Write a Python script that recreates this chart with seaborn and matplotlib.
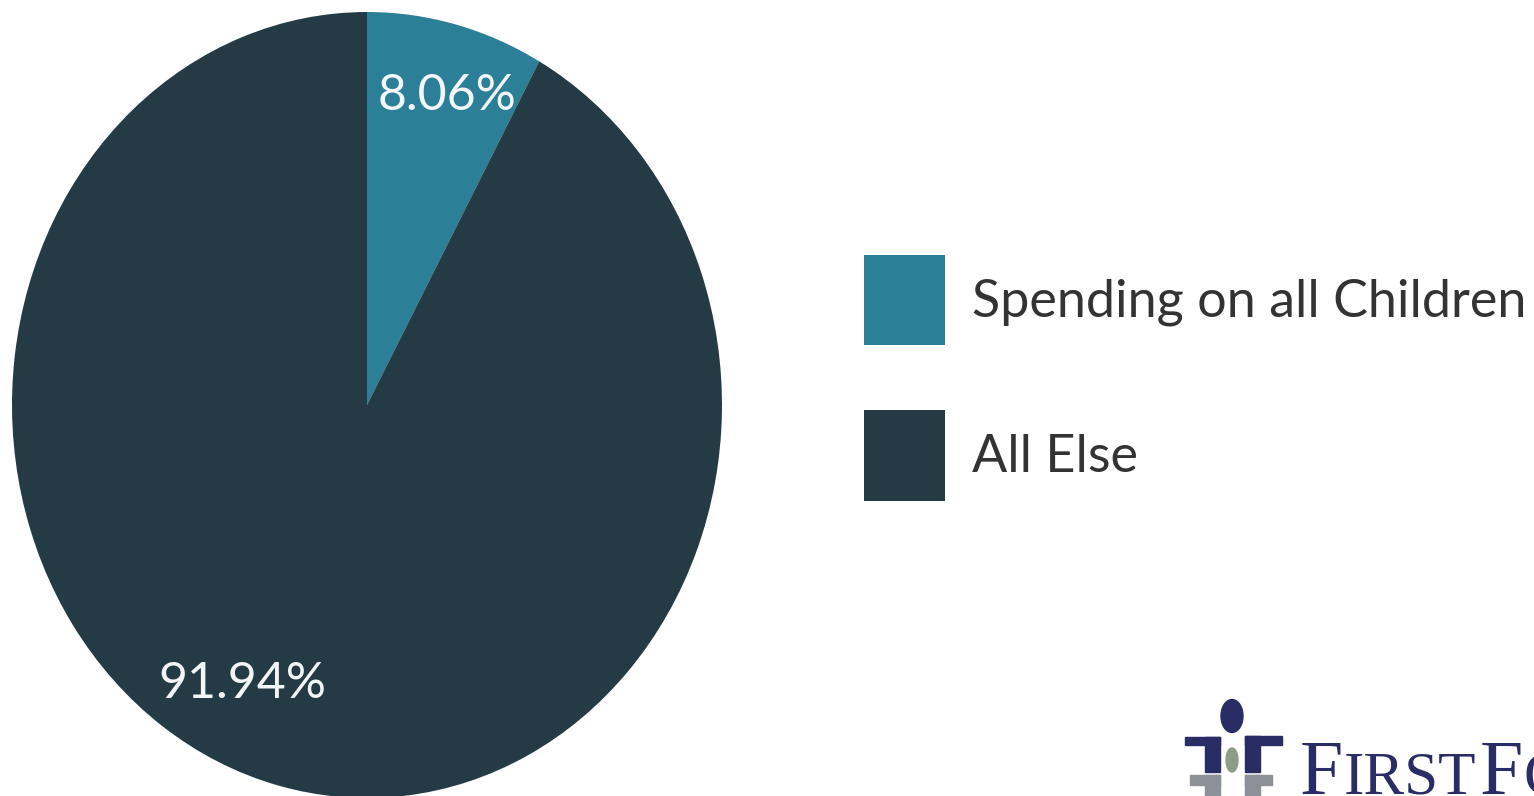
import matplotlib
matplotlib.use("Agg")
import matplotlib.pyplot as plt
import seaborn as sns
from matplotlib.patches import Ellipse, Rectangle

sns.set_theme(style="white")
plt.rcParams["font.family"] = ["Lato", "DejaVu Sans"]

# Share of spending
categories = ["Spending on all Children", "All Else"]
shares = [8.06, 91.94]
colors = ["#2b7f96", "#243b46"]

W, H = 1534, 796
fig = plt.figure(figsize=(W / 100, H / 100), dpi=100)
fig.patch.set_facecolor("white")

# Pie axes: stretched slightly taller than wide
cx, cy, rx, ry = 367, 405, 355, 393
ax = fig.add_axes([(cx - rx) / W, (H - cy - ry) / H, 2 * rx / W, 2 * ry / H])
wedges, _ = ax.pie(shares, colors=colors, startangle=90, counterclock=False,
                   wedgeprops=dict(linewidth=0))
ax.set_aspect("auto")
ax.set_xlim(-1, 1)
ax.set_ylim(-1, 1)
ax.axis("off")

label_pos = [(0.225, 0.785), (-0.352, -0.71)]
for val, (lx, ly) in zip(shares, label_pos):
    ax.text(lx, ly, f"{val:.2f}%", color="#f2f6f8", fontsize=36,
            ha="center", va="center")

# Legend
fig.legend(wedges, categories, loc="upper left",
           bbox_to_anchor=(864 / W, 1 - 255 / H), frameon=False,
           borderaxespad=0, borderpad=0,
           fontsize=37.5, handlelength=1.56, handleheight=2.29,
           handletextpad=0.52, labelspacing=1.25, labelcolor="#333333")

# Logo mark in the lower right corner
navy = "#2a2c66"
grey = "#8e9097"
def fx(px):
    return px / W
def fy(py):
    return 1 - py / H
fig.patches.append(Ellipse((fx(1232), fy(716)), 22 / W, 33 / H, color=navy,
                           transform=fig.transFigure, figure=fig))
for x0, y0, w, h, c in [
    (1185, 737, 35, 8, navy), (1205, 737, 15, 35, navy),
    (1245, 736, 37, 9, navy), (1245, 736, 15, 36, navy),
    (1190, 775, 30, 10, grey), (1205, 775, 15, 21, grey),
    (1245, 775, 27, 10, grey), (1245, 775, 15, 21, grey),
]:
    fig.patches.append(Rectangle((fx(x0), fy(y0 + h)), w / W, h / H, color=c,
                                 transform=fig.transFigure, figure=fig))
fig.patches.append(Ellipse((fx(1232), fy(760)), 12 / W, 24 / H, color="#8d9c86",
                           transform=fig.transFigure, figure=fig))

serif = ["Liberation Serif", "DejaVu Serif"]
logo_parts = [("F", 1300, 56), ("IRST", 1344, 44), ("F", 1480, 56), ("OCUS", 1524, 44)]
for txt, px, size in logo_parts:
    fig.text(fx(px), fy(794), txt, family=serif, fontsize=size, color=navy,
             ha="left", va="baseline")

fig.savefig("out.png", dpi=100, facecolor="white")
